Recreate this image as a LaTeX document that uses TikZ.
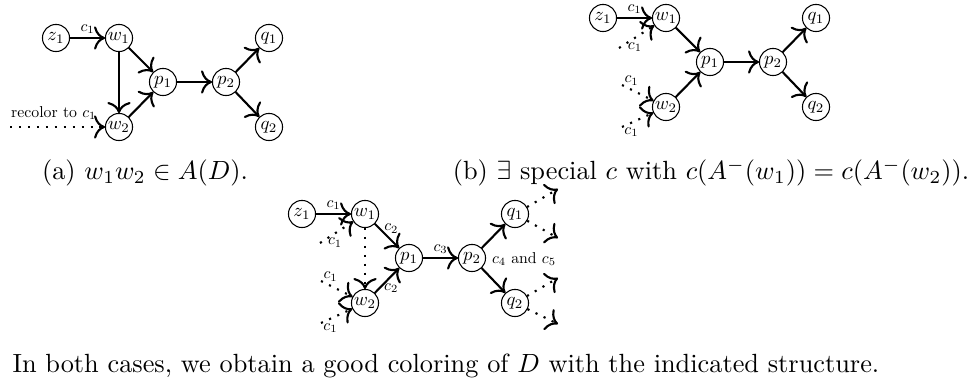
\documentclass[tikz,border=0pt]{standalone}
\usetikzlibrary{arrows.meta, positioning}
\tikzset{
    >={To[scale=1.25]},
    col_vertex/.style={
        circle,
        draw,
        thin,
        minimum size=14.5pt,
        inner sep=0pt,
        scale=0.71
    },
    col_arc/.style={
        ->,
        thick
    },
    col_dotted_arc/.style={
        ->,
        thick,
        dash pattern=on 0.8pt off 2.6pt
    },
    col_label/.style={
        inner sep=2.5pt,
        scale=0.6
    },
    col_caption/.style={
        anchor=base,
        inner sep=0pt,
        font=\normalsize
    }
}
% the seven vertices, #1 = name prefix, #2 = place of z_1
\newcommand{\colvertices}[2]{
    \begin{scope}[shift={#2}]
    \node[col_vertex] (#1z1) at (0,0) {$z_1$};
    \node[col_vertex] (#1w1) at (63,0) {$w_1$};
    \node[col_vertex] (#1w2) at (63,89) {$w_2$};
    \node[col_vertex] (#1p1) at (107,44) {$p_1$};
    \node[col_vertex] (#1p2) at (170,44) {$p_2$};
    \node[col_vertex] (#1q1) at (213,0) {$q_1$};
    \node[col_vertex] (#1q2) at (213,89) {$q_2$};
    \end{scope}
}

\begin{document}
\begin{tikzpicture}[x=0.38pt, y=-0.38pt]
\useasboundingbox (0,0) rectangle (976,387);

% --- (a) w1w2 is an arc ---
\colvertices{a}{(56,38)}
\coordinate (aRecolor) at (10,127);
\draw[col_arc] (az1) -- node[col_label, above] {$c_1$} (aw1);
\draw[col_arc] (aw1) -- (ap1);
\draw[col_arc] (aw1) -- (aw2);
\draw[col_arc] (aw2) -- (ap1);
\draw[col_arc] (ap1) -- (ap2);
\draw[col_arc] (ap2) -- (aq1);
\draw[col_arc] (ap2) -- (aq2);
\draw[col_dotted_arc] (aRecolor) -- node[col_label, pos=0.46, above=1pt] {recolor to $c_1$} (aw2);
\node[col_caption] (aCaption) at (145,180) {(a) $w_1w_2 \in A(D)$.};

% --- (b) special coloring ---
\colvertices{b}{(603,18)}
\coordinate (bInW1) at ([shift={(-47,30)}]bw1);
\coordinate (bInW2a) at ([shift={(-44,-22)}]bw2);
\coordinate (bInW2b) at ([shift={(-44,20)}]bw2);
\draw[col_arc] (bz1) -- node[col_label, above] {$c_1$} (bw1);
\draw[col_arc] (bw1) -- (bp1);
\draw[col_arc] (bw2) -- (bp1);
\draw[col_arc] (bp1) -- (bp2);
\draw[col_arc] (bp2) -- (bq1);
\draw[col_arc] (bp2) -- (bq2);
\draw[col_dotted_arc] (bInW1) -- node[col_label, pos=0.45, below] {$c_1$} (bw1);
\draw[col_dotted_arc] (bInW2a) -- node[col_label, pos=0.3, above] {$c_1$} (bw2);
\draw[col_dotted_arc] (bInW2b) -- node[col_label, pos=0.3, below] {$c_1$} (bw2);
\node[col_caption] (bCaption) at (711,180) {(b) $\exists$ special $c$ with $c(A^-(w_1)) = c(A^-(w_2))$.};

% --- (c) resulting structure ---
\colvertices{c}{(302,214)}
\coordinate (cInW1) at ([shift={(-45,29)}]cw1);
\coordinate (cInW2a) at ([shift={(-44,-22)}]cw2);
\coordinate (cInW2b) at ([shift={(-44,20)}]cw2);
\coordinate (cOutQ1a) at ([shift={(43,-25)}]cq1);
\coordinate (cOutQ1b) at ([shift={(43,24)}]cq1);
\coordinate (cOutQ2a) at ([shift={(43,-25)}]cq2);
\coordinate (cOutQ2b) at ([shift={(43,21)}]cq2);
\draw[col_arc] (cz1) -- node[col_label, above] {$c_1$} (cw1);
\draw[col_arc] (cw1) -- node[col_label, pos=0.2, right] {$c_2$} (cp1);
\draw[col_arc] (cw2) -- node[col_label, pos=0.2, right] {$c_2$} (cp1);
\draw[col_arc] (cp1) -- node[col_label, above] {$c_3$} (cp2);
\draw[col_arc] (cp2) -- (cq1);
\draw[col_arc] (cp2) -- (cq2);
\draw[col_dotted_arc] (cw1) -- (cw2);
\draw[col_dotted_arc] (cInW1) -- node[col_label, pos=0.45, below] {$c_1$} (cw1);
\draw[col_dotted_arc] (cInW2a) -- node[col_label, pos=0.3, above] {$c_1$} (cw2);
\draw[col_dotted_arc] (cInW2b) -- node[col_label, pos=0.3, below] {$c_1$} (cw2);
\draw[col_dotted_arc] (cq1) -- (cOutQ1a);
\draw[col_dotted_arc] (cq1) -- (cOutQ1b);
\draw[col_dotted_arc] (cq2) -- (cOutQ2a);
\draw[col_dotted_arc] (cq2) -- (cOutQ2b);
\node[col_label] (cColors) at (524,259) {$c_4$ and $c_5$};

% --- closing remark ---
\node[anchor=base west, inner sep=0pt] (remark) at (12,373) {In both cases, we obtain a good coloring of $D$ with the indicated structure.};

\end{tikzpicture}
\end{document}
